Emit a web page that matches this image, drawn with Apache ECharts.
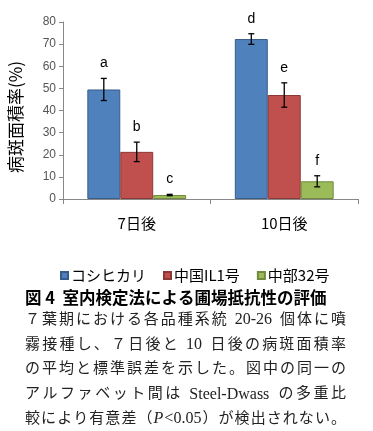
<!DOCTYPE html>
<html><head><meta charset="utf-8">
<script src="https://cdn.jsdelivr.net/npm/echarts@6/dist/echarts.min.js"></script>
<style>html,body{margin:0;padding:0;background:#fff}#c{width:373px;height:431px}</style>
</head><body><div id="c"></div>
<script>
const categories = ['7日後', '10日後'];
const seriesNames = ['コシヒカリ', '中国IL1号', '中部32号'];
const koshihikariMean = [49.5, 72.3];
const chugokuMean = [21.3, 47.0];
const chubuMean = [1.8, 8.0];
const koshihikariErr = [5.0, 2.4];
const chugokuErr = [4.4, 5.5];
const chubuErr = [0.3, 2.5];
const koshihikariLetters = ['a', 'd'];
const chugokuLetters = ['b', 'e'];
const chubuLetters = ['c', 'f'];
const yTicks = [0, 10, 20, 30, 40, 50, 60, 70, 80];
const yAxisTitle = '病斑面積率(%)';
const captionTitle = '図 4  室内検定法による圃場抵抗性の評価';
const captionLines = [
  '７葉期における各品種系統 20-26 個体に噴',
  '霧接種し、７日後と 10 日後の病斑面積率',
  'の平均と標準誤差を示した。図中の同一の',
  'アルファベット間は Steel-Dwass の多重比',
  '較により有意差（P<0.05）が検出されない。'
];

const means = [koshihikariMean, chugokuMean, chubuMean];
const errs = [koshihikariErr, chugokuErr, chubuErr];
const letters = [koshihikariLetters, chugokuLetters, chubuLetters];
const colors = ['#4f81bd', '#c0504d', '#9bbb59'];
const borders = ['#385d8a', '#8c3836', '#71893f'];
const GROUP = 0.67;

const chart = echarts.init(document.getElementById('c'), null, {renderer: 'canvas'});

function errRender(si) {
  return function (params, api) {
    const ci = api.value(0), m = api.value(1), e = api.value(2);
    const band = api.size([1, 0])[0];
    const bw = band * GROUP / 3;
    const c = api.coord([ci, m]);
    const x = c[0] + (si - 1) * bw;
    const top = api.coord([ci, m + e])[1];
    const bot = api.coord([ci, m - e])[1];
    const cap = 3;
    const ls = {stroke: '#000', lineWidth: 1.3};
    return {
      type: 'group',
      children: [
        {type: 'line', shape: {x1: x, y1: top, x2: x, y2: bot}, style: ls},
        {type: 'line', shape: {x1: x - cap, y1: top, x2: x + cap, y2: top}, style: ls},
        {type: 'line', shape: {x1: x - cap, y1: bot, x2: x + cap, y2: bot}, style: ls},
        {type: 'text', style: {text: letters[si][params.dataIndex], x: x, y: top - 15,
          align: 'center', verticalAlign: 'middle', fontSize: 14,
          fontFamily: 'Liberation Sans, Arial, sans-serif', fill: '#000'}}
      ]
    };
  };
}

const series = [];
for (let i = 0; i < 3; i++) {
  series.push({
    name: seriesNames[i], type: 'bar', data: means[i],
    barGap: '0%', barCategoryGap: '33%',
    itemStyle: {color: colors[i], borderColor: borders[i], borderWidth: 1}
  });
}
for (let i = 0; i < 3; i++) {
  series.push({
    type: 'custom', z: 5, renderItem: errRender(i),
    encode: {x: 0, y: 1},
    data: means[i].map((m, k) => [k, m, errs[i][k]])
  });
}

// caption layout: justified tokens
const mctx = document.createElement('canvas').getContext('2d');
const latinFont = '16px "Liberation Serif", serif';
const latinItalic = 'italic 16px "Liberation Serif", serif';
const cjkFont = '15px "Noto Sans CJK JP", sans-serif';
function isLatin(t) { return t === 'P' || /^[A-Za-z0-9\-\.<]+$/.test(t); }
function tokFont(t) {
  if (t === 'P') return latinItalic;
  if (isLatin(t)) return latinFont;
  return cjkFont;
}
const graphics = [{
  type: 'text', x: 25, y: 298,
  style: {text: captionTitle, font: 'bold 16.5px "Noto Sans CJK JP", sans-serif', fill: '#000', verticalAlign: 'middle'}
}];
const LEFT = 25, RIGHT = 346;
captionLines.forEach((line, k) => {
  const toks = line.match(/P(?=<)|[A-Za-z0-9\-\.<]+|./g);
  const widths = toks.map(t => { mctx.font = tokFont(t); return t === ' ' ? 4 : mctx.measureText(t).width; });
  const total = widths.reduce((a, b) => a + b, 0);
  const gap = (RIGHT - LEFT - total) / (toks.length - 1);
  let x = LEFT;
  const y = 318 + k * 24.8;
  toks.forEach((t, i) => {
    if (t !== ' ') {
      graphics.push({type: 'text', x: x, y: y + (isLatin(t) ? 2 : 0),
        style: {text: t, font: tokFont(t), fill: '#222', verticalAlign: 'middle'}});
    }
    x += widths[i] + gap;
  });
});
graphics.push({
  type: 'text', x: 16, y: 117, rotation: Math.PI / 2,
  style: {text: yAxisTitle, font: '17px "Noto Sans CJK JP", sans-serif', fill: '#000',
    align: 'center', verticalAlign: 'middle'}
});

chart.setOption({
  animation: false,
  grid: {left: 63, right: 15, top: 22, bottom: 232, containLabel: false},
  legend: {
    data: seriesNames, left: 55, top: 263, icon: 'rect', itemWidth: 7, itemHeight: 7,
    itemGap: 17,
    textStyle: {fontSize: 15, color: '#000', fontFamily: '"Noto Sans CJK JP", sans-serif', padding: [0, 0, 0, -2]}
  },
  xAxis: {
    type: 'category', data: categories,
    axisLine: {lineStyle: {color: '#888'}},
    axisTick: {show: true, length: 5, lineStyle: {color: '#888'}},
    axisLabel: {fontSize: 15, color: '#000', margin: 17, fontFamily: '"Noto Sans CJK JP", sans-serif'}
  },
  yAxis: {
    type: 'value', min: 0, max: 80, interval: 10,
    axisLine: {show: true, lineStyle: {color: '#888'}},
    axisTick: {show: true, length: 4, lineStyle: {color: '#888'}},
    splitLine: {show: false},
    axisLabel: {fontSize: 12, color: '#555', margin: 7, fontFamily: 'Liberation Sans, Arial, sans-serif',
      formatter: v => yTicks.includes(v) ? String(v) : ''}
  },
  series: series,
  graphic: graphics
});
</script></body></html>
